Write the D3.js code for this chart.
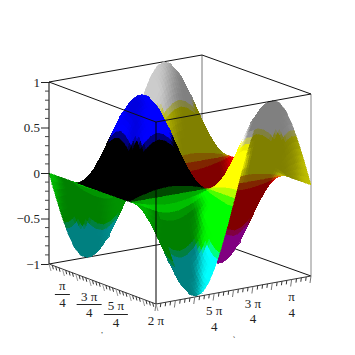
<!DOCTYPE html>
<html>
<head>
<meta charset="utf-8">
<script src="https://cdn.jsdelivr.net/npm/d3@7"></script>
<style>
  html, body { margin: 0; padding: 0; background: #fff; }
  svg { display: block; }
  text { font-family: "Liberation Serif", serif; fill: #222; }
</style>
</head>
<body>
<div id="chart"></div>
<script>
// Height, one list per row of the mesh
const row0 = [0,0,0,0,0,0,0,0,0,0,0,0,0,0,0,0,0,0,0,0,0,0,0,0,0];
const row1 = [.26,.25,.22,.18,.13,.07,0,-.07,-.13,-.18,-.22,-.25,-.26,-.25,-.22,-.18,-.13,-.07,0,.07,.13,.18,.22,.25,.26];
const row2 = [.5,.48,.43,.35,.25,.13,0,-.13,-.25,-.35,-.43,-.48,-.5,-.48,-.43,-.35,-.25,-.13,0,.13,.25,.35,.43,.48,.5];
const row3 = [.71,.68,.61,.5,.35,.18,0,-.18,-.35,-.5,-.61,-.68,-.71,-.68,-.61,-.5,-.35,-.18,0,.18,.35,.5,.61,.68,.71];
const row4 = [.87,.84,.75,.61,.43,.22,0,-.22,-.43,-.61,-.75,-.84,-.87,-.84,-.75,-.61,-.43,-.22,0,.22,.43,.61,.75,.84,.87];
const row5 = [.97,.93,.84,.68,.48,.25,0,-.25,-.48,-.68,-.84,-.93,-.97,-.93,-.84,-.68,-.48,-.25,0,.25,.48,.68,.84,.93,.97];
const row6 = [1,.97,.87,.71,.5,.26,0,-.26,-.5,-.71,-.87,-.97,-1,-.97,-.87,-.71,-.5,-.26,0,.26,.5,.71,.87,.97,1];
const neg1 = [-.26,-.25,-.22,-.18,-.13,-.07,0,.07,.13,.18,.22,.25,.26,.25,.22,.18,.13,.07,0,-.07,-.13,-.18,-.22,-.25,-.26];
const neg2 = [-.5,-.48,-.43,-.35,-.25,-.13,0,.13,.25,.35,.43,.48,.5,.48,.43,.35,.25,.13,0,-.13,-.25,-.35,-.43,-.48,-.5];
const neg3 = [-.71,-.68,-.61,-.5,-.35,-.18,0,.18,.35,.5,.61,.68,.71,.68,.61,.5,.35,.18,0,-.18,-.35,-.5,-.61,-.68,-.71];
const neg4 = [-.87,-.84,-.75,-.61,-.43,-.22,0,.22,.43,.61,.75,.84,.87,.84,.75,.61,.43,.22,0,-.22,-.43,-.61,-.75,-.84,-.87];
const neg5 = [-.97,-.93,-.84,-.68,-.48,-.25,0,.25,.48,.68,.84,.93,.97,.93,.84,.68,.48,.25,0,-.25,-.48,-.68,-.84,-.93,-.97];
const neg6 = [-1,-.97,-.87,-.71,-.5,-.26,0,.26,.5,.71,.87,.97,1,.97,.87,.71,.5,.26,0,-.26,-.5,-.71,-.87,-.97,-1];
const zRows = [row0,row1,row2,row3,row4,row5,row6,row5,row4,row3,row2,row1,row0,
               neg1,neg2,neg3,neg4,neg5,neg6,neg5,neg4,neg3,neg2,neg1,row0];

// Tick labels
const zTicks = [-1, -0.5, 0, 0.5, 1];
const zMinor = [-.9,-.8,-.7,-.6,-.4,-.3,-.2,-.1,.1,.2,.3,.4,.6,.7,.8,.9];
const xLabels = ["π/4", "3 π/4", "5 π/4"];
const xLabelAt = [0.25, 0.75, 1.25];     // in units of π
const yLabels = ["π/4", "3 π/4", "5 π/4"];
const yLabelAt = [0.25, 0.75, 1.25];

const width = 355, height = 355;

// Box corners on the page (parallel projection)
const back = [202, 237], right = [311, 276], left = [49, 264], front = [156, 304];
const boxH = 182;

// Escales
const xScale = d3.scaleLinear().domain([0, 2 * Math.PI]).range([0, 1]);
const yScale = d3.scaleLinear().domain([0, 2 * Math.PI]).range([0, 1]);
const zScale = d3.scaleLinear().domain([-1, 1]).range([0, -boxH]);
const step = 2 * Math.PI / (zRows.length - 1);

function project(x, y, z) {
  const a = xScale(x), b = yScale(y);
  return [
    back[0] + a * (right[0] - back[0]) + b * (left[0] - back[0]),
    back[1] + a * (right[1] - back[1]) + b * (left[1] - back[1]) + zScale(z)
  ];
}

const ramp = (v, lo, hi) => Math.max(0, Math.min(1, (v - lo) / (hi - lo)));

// the light in the picture falls in upright stripes, so it goes with page x, lobe by lobe
// 1 = half level, 2 = full level
function light(a, b, sx) {
  const farSide = b < .5, lowA = a < .25, highA = a > .75;
  if (!lowA && !highA && !farSide) return sx > 128 && sx < 140 ? 1.75 : 2;
  if (!lowA && !highA) return 1 + ramp(sx, 222, 232) * ramp(.08 - b, 0, .05);
  if (lowA && farSide) return 1 + .6 * ramp(180 - sx, 0, 20);
  if (highA && farSide) return sx < 248 ? 2 : 1 + .15 * ramp(sx, 285, 295) + .35 * ramp(sx, 296, 304);
  if (lowA) return 1 + .5 * ramp(62 - sx, 0, 8) + .15 * ramp(sx, 100, 115);
  if (sx < 157) return 1 + .4 * ramp(157 - sx, 0, 12);
  return 1 + ramp(sx, 196, 203);
}

// corner values: red, green, blue switches and the light level
function vertexColor(i, j) {
  const a = i / 24, b = j / 24, z = zRows[j][i];
  return [
    b < .5 ? 1 : (b === .5 ? .5 : 0),
    (a < .25 || a > .75) ? 1 : (a === .25 || a === .75 ? .5 : 0),
    Math.abs(z) > .55 ? 1 : 0,
    light(a, b, project(i * step, j * step, z)[0])
  ];
}

const svg = d3.select("#chart").append("svg").attr("width", width).attr("height", height);

const corner = (p, zv) => [p[0], p[1] + zScale(zv)];
const boxLine = (g, p, q, col, w) => g.append("line")
  .attr("x1", p[0]).attr("y1", p[1]).attr("x2", q[0]).attr("y2", q[1])
  .attr("stroke", col).attr("stroke-width", w || 1);

// Caixa, part del darrere
const backBox = svg.append("g");
boxLine(backBox, left, back, "#111");
boxLine(backBox, back, right, "#111");
boxLine(backBox, back, corner(back, 1), "#777");
boxLine(backBox, corner(left, 1), corner(back, 1), "#111");
boxLine(backBox, corner(back, 1), corner(right, 1), "#111");
boxLine(backBox, right, corner(right, 1), "#888");

// Superficie, far cells first. Each mesh cell is painted in small pieces so the
// colour runs smoothly between its corners, the cell outline stays as it is
const shades = 3;
const mix = (c, u, v) => c[0].map((_, k) =>
  c[0][k] * (1 - u) * (1 - v) + c[1][k] * u * (1 - v) + c[2][k] * u * v + c[3][k] * (1 - u) * v);
const pieces = [];
zRows.slice(0, -1).forEach((row, j) => {
  row.slice(0, -1).forEach((_, i) => {
    const ids = [[i, j], [i + 1, j], [i + 1, j + 1], [i, j + 1]];
    const pts = ids.map(([p, q]) => project(p * step, q * step, zRows[q][p]));
    const cols = ids.map(([p, q]) => vertexColor(p, q));
    for (let v = 0; v < shades; v++) for (let u = 0; u < shades; u++) {
      const c = mix(cols, (u + .5) / shades, (v + .5) / shades);
      // the switches flip quickly, the reference has thin soft borders
      const on = m => ramp(m, .3, .7) * c[3] * 127.5;
      pieces.push({
        d: "M" + [[u, v], [u + 1, v], [u + 1, v + 1], [u, v + 1]]
          .map(([s, t]) => mix(pts, s / shades, t / shades)).join("L") + "Z",
        fill: d3.rgb(on(c[0]), on(c[1]), on(c[2])) + ""
      });
    }
  });
});
svg.append("g").attr("shape-rendering", "crispEdges").selectAll("path")
  .data(pieces)
  .enter()
  .append("path")
  .attr("d", d => d.d)
  .attr("fill", d => d.fill)
  .attr("stroke", d => d.fill)
  .attr("stroke-width", 0.5);

// Caixa, part del davant
const frontBox = svg.append("g");
boxLine(frontBox, corner(left, 1), corner(front, 1), "#111");
boxLine(frontBox, corner(front, 1), corner(right, 1), "#111");
boxLine(frontBox, front, corner(front, 1), "#000");
boxLine(frontBox, left, corner(left, 1), "#000");
boxLine(frontBox, left, front, "#333");
boxLine(frontBox, front, right, "#333");

// eix Z
const zAxis = svg.append("g").attr("transform", `translate(${left[0]},${left[1]})`);
zAxis.call(d3.axisLeft(zScale).tickValues(zTicks).tickSize(8).tickSizeOuter(0)
  .tickFormat(d => d < 0 ? "\u2212" + Math.abs(d) : d));
zAxis.select(".domain").remove();
zAxis.selectAll("text").style("font-family", "Liberation Serif").style("font-size", "13px").attr("fill", "#222").attr("x", -9);
zAxis.selectAll("line").attr("stroke", "#222");
zAxis.selectAll(".minor").data(zMinor).enter().append("line").attr("class", "minor")
  .attr("x1", -4).attr("x2", 0).attr("y1", d => zScale(d)).attr("y2", d => zScale(d))
  .attr("stroke", "#444");

// ticks on the two floor edges
const floorTicks = d3.range(0, 33);
svg.append("g").selectAll("line").data(floorTicks).enter().append("line")
  .attr("x1", d => left[0] + (front[0] - left[0]) * d / 32)
  .attr("y1", d => left[1] + (front[1] - left[1]) * d / 32)
  .attr("x2", d => left[0] + (front[0] - left[0]) * d / 32 + (d % 4 === 0 ? 2 : 1))
  .attr("y2", d => left[1] + (front[1] - left[1]) * d / 32 + (d % 4 === 0 ? 7 : 4))
  .attr("stroke", d => d % 4 === 0 ? "#999" : "#333");
svg.append("g").selectAll("line").data(floorTicks).enter().append("line")
  .attr("x1", d => right[0] + (front[0] - right[0]) * d / 32)
  .attr("y1", d => right[1] + (front[1] - right[1]) * d / 32)
  .attr("x2", d => right[0] + (front[0] - right[0]) * d / 32 - (d % 4 === 0 ? 1 : 0.5))
  .attr("y2", d => right[1] + (front[1] - right[1]) * d / 32 + (d % 4 === 0 ? 7 : 4))
  .attr("stroke", d => d % 4 === 0 ? "#777" : "#333");

// Labels
function fraction(cx, topBase, botBase, barY, barW, txt) {
  const parts = txt.split("/");
  svg.append("text").attr("x", cx).attr("y", topBase).attr("text-anchor", "middle")
    .style("font-size", "13px").text(parts[0]);
  svg.append("text").attr("x", cx).attr("y", botBase).attr("text-anchor", "middle")
    .style("font-size", "13px").text(parts[1]);
  if (barW) svg.append("line").attr("x1", cx - barW / 2).attr("x2", cx + barW / 2)
    .attr("y1", barY).attr("y2", barY).attr("stroke", "#222");
}
const leftEdgeX = d3.scaleLinear().domain([0, 2]).range([left[0], front[0]]);
const rightEdgeX = d3.scaleLinear().domain([0, 2]).range([right[0], front[0]]);
fraction(leftEdgeX(xLabelAt[0]), 290, 307, 294.5, 15, xLabels[0]);
fraction(leftEdgeX(xLabelAt[1]), 301, 317, 304.5, 25, xLabels[1]);
fraction(leftEdgeX(xLabelAt[2]), 310, 327, 314.5, 24, xLabels[2]);
fraction(rightEdgeX(yLabelAt[0]), 301, 317, 0, 0, yLabels[0]);
fraction(rightEdgeX(yLabelAt[1]), 308, 323, 0, 0, yLabels[1]);
fraction(rightEdgeX(yLabelAt[2]), 315, 331, 0, 0, yLabels[2]);
svg.append("text").attr("x", 156).attr("y", 325).attr("text-anchor", "middle")
  .style("font-size", "13px").text("2 π");

// tiny axis names
svg.append("text").attr("x", 102).attr("y", 333).attr("text-anchor", "middle")
  .style("font-size", "8px").text(",");
svg.append("text").attr("x", 234).attr("y", 343).attr("text-anchor", "middle")
  .style("font-size", "8px").text("`");
</script>
</body>
</html>
